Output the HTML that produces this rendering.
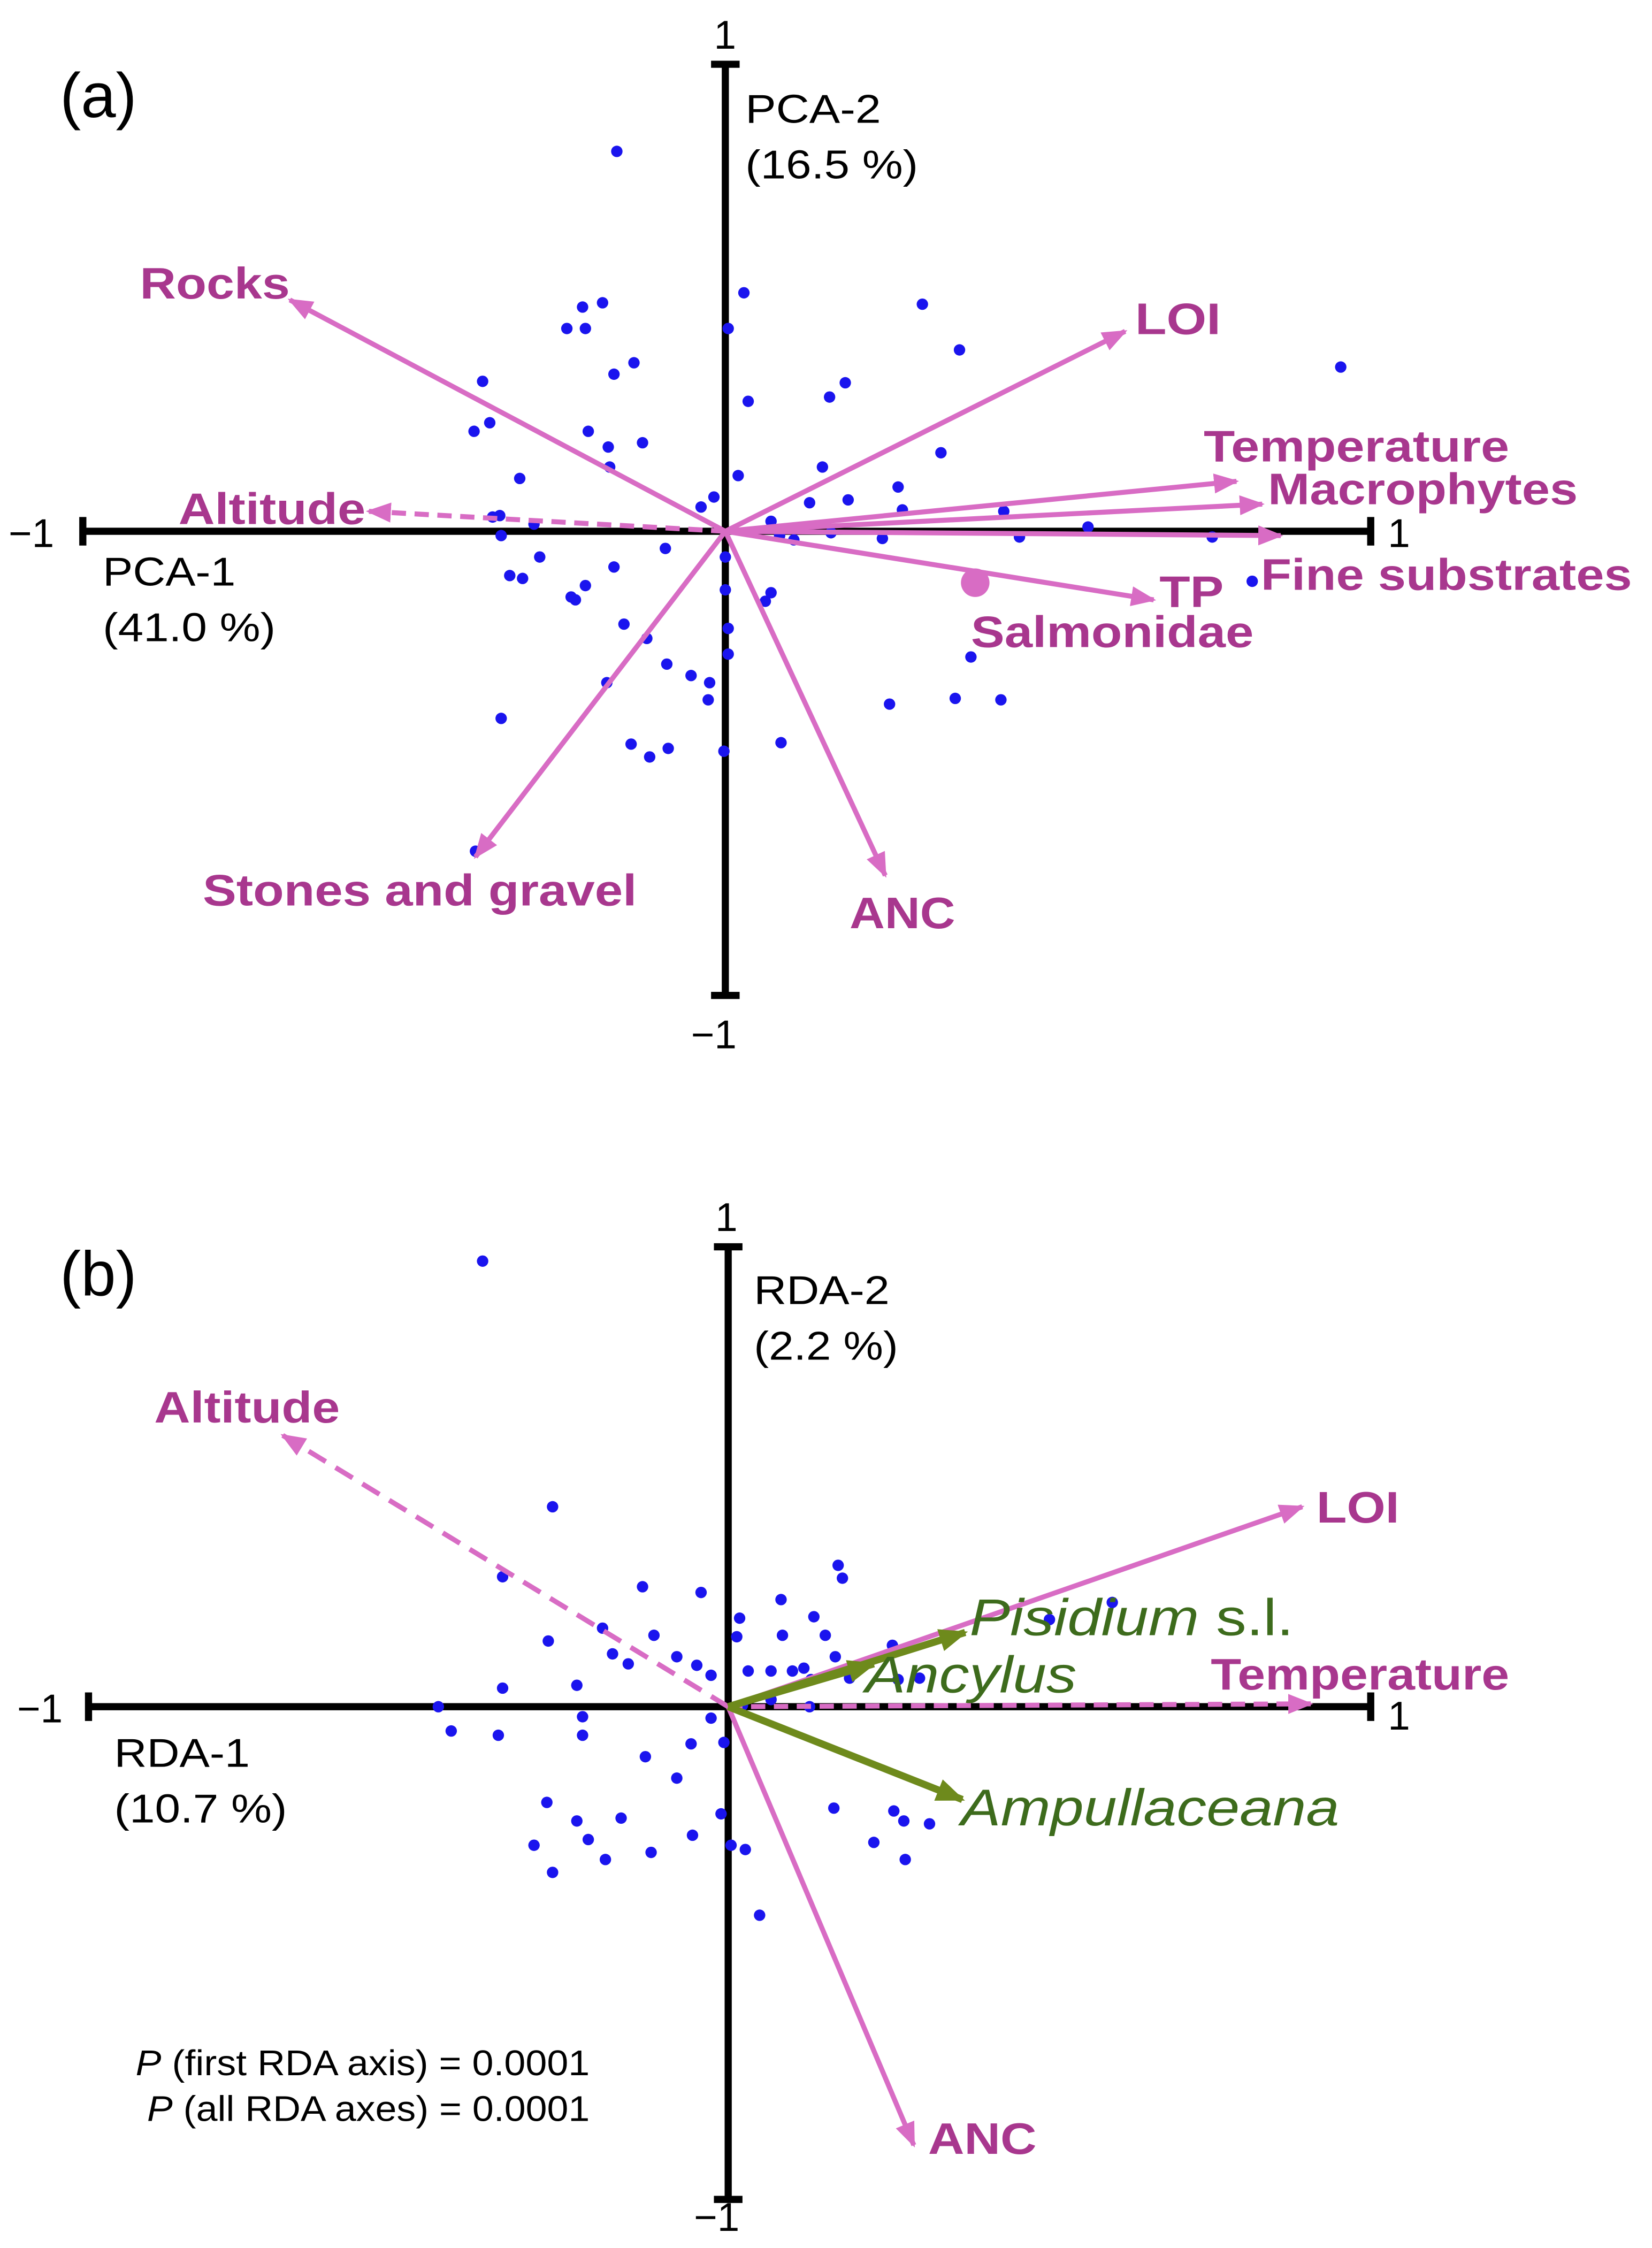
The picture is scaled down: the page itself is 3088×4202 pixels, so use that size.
<!DOCTYPE html>
<html><head><meta charset="utf-8"><style>html,body{margin:0;padding:0;background:#fff}svg{display:block}</style></head>
<body>
<svg width="3088" height="4202" viewBox="0 0 1157 1574" preserveAspectRatio="none" xmlns="http://www.w3.org/2000/svg" font-family="Liberation Sans, sans-serif">
<defs>
<marker id="m" viewBox="0 0 10 10" refX="9" refY="5" markerWidth="5" markerHeight="5" orient="auto" markerUnits="strokeWidth"><path d="M0,1 L10,5 L0,9 z" fill="#d86cc4"/></marker>
<marker id="g" viewBox="0 0 10 10" refX="9" refY="5" markerWidth="4" markerHeight="4" orient="auto" markerUnits="strokeWidth"><path d="M0,1 L10,5 L0,9 z" fill="#6e8a1c"/></marker>
</defs>
<rect width="1157" height="1574" fill="#fff"/>
<!-- Panel a axes -->
<g stroke="#000" stroke-width="5">
<line x1="58" y1="372" x2="960" y2="372"/>
<line x1="58" y1="362" x2="58" y2="382"/><line x1="960" y1="362" x2="960" y2="382"/>
<line x1="508" y1="45" x2="508" y2="697"/>
<line x1="498" y1="45" x2="518" y2="45"/><line x1="498" y1="697" x2="518" y2="697"/>
</g>
<g font-size="28" fill="#000">
<text x="500" y="34">1</text><text x="6" y="383">−1</text><text x="972" y="383">1</text><text x="484" y="734">−1</text>
<text x="522" y="86" textLength="95" lengthAdjust="spacingAndGlyphs">PCA-2</text><text x="522" y="125" textLength="121" lengthAdjust="spacingAndGlyphs">(16.5 %)</text>
<text x="72" y="410" textLength="93" lengthAdjust="spacingAndGlyphs">PCA-1</text><text x="72" y="449" textLength="121" lengthAdjust="spacingAndGlyphs">(41.0 %)</text>
</g>
<text x="42" y="82" font-size="44">(a)</text>
<g fill="#1a14ee">
<circle cx="432" cy="106" r="4"/><circle cx="521" cy="205" r="4"/><circle cx="408" cy="215" r="4"/><circle cx="422" cy="212" r="4"/><circle cx="397" cy="230" r="4"/><circle cx="410" cy="230" r="4"/><circle cx="510" cy="230" r="4"/><circle cx="646" cy="213" r="4"/><circle cx="672" cy="245" r="4"/><circle cx="444" cy="254" r="4"/><circle cx="430" cy="262" r="4"/><circle cx="524" cy="281" r="4"/><circle cx="592" cy="268" r="4"/><circle cx="581" cy="278" r="4"/><circle cx="338" cy="267" r="4"/><circle cx="343" cy="296" r="4"/><circle cx="332" cy="302" r="4"/><circle cx="412" cy="302" r="4"/><circle cx="426" cy="313" r="4"/><circle cx="427" cy="327" r="4"/><circle cx="450" cy="310" r="4"/><circle cx="659" cy="317" r="4"/><circle cx="364" cy="335" r="4"/><circle cx="517" cy="333" r="4"/><circle cx="576" cy="327" r="4"/><circle cx="629" cy="341" r="4"/><circle cx="491" cy="355" r="4"/><circle cx="500" cy="348" r="4"/><circle cx="540" cy="365" r="4"/><circle cx="567" cy="352" r="4"/><circle cx="594" cy="350" r="4"/><circle cx="632" cy="357" r="4"/><circle cx="703" cy="358" r="4"/><circle cx="345" cy="362" r="4"/><circle cx="350" cy="361" r="4"/><circle cx="374" cy="367" r="4"/><circle cx="351" cy="375" r="4"/><circle cx="546" cy="375" r="4"/><circle cx="556" cy="378" r="4"/><circle cx="582" cy="373" r="4"/><circle cx="618" cy="377" r="4"/><circle cx="714" cy="376" r="4"/><circle cx="762" cy="369" r="4"/><circle cx="849" cy="376" r="4"/><circle cx="939" cy="257" r="4"/><circle cx="466" cy="384" r="4"/><circle cx="410" cy="410" r="4"/><circle cx="400" cy="418" r="4"/><circle cx="403" cy="420" r="4"/><circle cx="357" cy="403" r="4"/><circle cx="366" cy="405" r="4"/><circle cx="378" cy="390" r="4"/><circle cx="430" cy="397" r="4"/><circle cx="508" cy="390" r="4"/><circle cx="540" cy="415" r="4"/><circle cx="536" cy="421" r="4"/><circle cx="508" cy="413" r="4"/><circle cx="437" cy="437" r="4"/><circle cx="453" cy="447" r="4"/><circle cx="467" cy="465" r="4"/><circle cx="484" cy="473" r="4"/><circle cx="497" cy="478" r="4"/><circle cx="496" cy="490" r="4"/><circle cx="510" cy="440" r="4"/><circle cx="510" cy="458" r="4"/><circle cx="425" cy="478" r="4"/><circle cx="351" cy="503" r="4"/><circle cx="442" cy="521" r="4"/><circle cx="455" cy="530" r="4"/><circle cx="468" cy="524" r="4"/><circle cx="507" cy="526" r="4"/><circle cx="547" cy="520" r="4"/><circle cx="623" cy="493" r="4"/><circle cx="669" cy="489" r="4"/><circle cx="701" cy="490" r="4"/><circle cx="680" cy="460" r="4"/><circle cx="877" cy="407" r="4"/><circle cx="333" cy="596" r="4"/>
</g>
<g stroke="#d86cc4" stroke-width="3.5" marker-end="url(#m)" fill="none">
<line x1="508" y1="372" x2="203" y2="210"/>
<line x1="508" y1="372" x2="788" y2="232"/>
<line x1="508" y1="372" x2="866" y2="337"/>
<line x1="508" y1="372" x2="884" y2="353"/>
<line x1="508" y1="372" x2="897" y2="375"/>
<line x1="508" y1="372" x2="808" y2="420"/>
<line x1="508" y1="372" x2="620" y2="613"/>
<line x1="508" y1="372" x2="333" y2="600"/>
<line x1="508" y1="372" x2="258" y2="358" stroke-dasharray="10,6"/>
</g>
<circle cx="683" cy="408" r="10" fill="#d86cc4"/>
<g font-size="31" font-weight="bold" fill="#a8378e">
<text x="98" y="209" textLength="105" lengthAdjust="spacingAndGlyphs">Rocks</text>
<text x="795" y="234" textLength="60" lengthAdjust="spacingAndGlyphs">LOI</text>
<text x="843" y="323" textLength="214" lengthAdjust="spacingAndGlyphs">Temperature</text>
<text x="888" y="353" textLength="217" lengthAdjust="spacingAndGlyphs">Macrophytes</text>
<text x="883" y="413" textLength="260" lengthAdjust="spacingAndGlyphs">Fine substrates</text>
<text x="812" y="425" textLength="45" lengthAdjust="spacingAndGlyphs">TP</text>
<text x="680" y="453" textLength="198" lengthAdjust="spacingAndGlyphs">Salmonidae</text>
<text x="142" y="634" textLength="304" lengthAdjust="spacingAndGlyphs">Stones and gravel</text>
<text x="595" y="650" textLength="74" lengthAdjust="spacingAndGlyphs">ANC</text>
<text x="125" y="367" textLength="131" lengthAdjust="spacingAndGlyphs">Altitude</text>
</g>
<!-- Panel b -->
<g stroke="#000" stroke-width="5">
<line x1="62" y1="1195" x2="960" y2="1195"/>
<line x1="62" y1="1185" x2="62" y2="1205"/><line x1="960" y1="1185" x2="960" y2="1205"/>
<line x1="510" y1="873" x2="510" y2="1540"/>
<line x1="500" y1="873" x2="520" y2="873"/><line x1="500" y1="1540" x2="520" y2="1540"/>
</g>
<g font-size="28" fill="#000">
<text x="501" y="862">1</text><text x="12" y="1206">−1</text><text x="972" y="1211">1</text><text x="486" y="1562">−1</text>
<text x="528" y="913" textLength="95" lengthAdjust="spacingAndGlyphs">RDA-2</text><text x="528" y="952" textLength="101" lengthAdjust="spacingAndGlyphs">(2.2 %)</text>
<text x="80" y="1237" textLength="95" lengthAdjust="spacingAndGlyphs">RDA-1</text><text x="80" y="1276" textLength="121" lengthAdjust="spacingAndGlyphs">(10.7 %)</text>
</g>
<g font-size="25" fill="#000">
<text x="95" y="1453" textLength="318" lengthAdjust="spacingAndGlyphs"><tspan font-style="italic">P</tspan> (first RDA axis) = 0.0001</text>
<text x="103" y="1485" textLength="310" lengthAdjust="spacingAndGlyphs"><tspan font-style="italic">P</tspan> (all RDA axes) = 0.0001</text>
</g>
<text x="42" y="907" font-size="44">(b)</text>
<g fill="#1a14ee">
<circle cx="338" cy="883" r="4"/><circle cx="387" cy="1055" r="4"/><circle cx="352" cy="1104" r="4"/><circle cx="450" cy="1111" r="4"/><circle cx="491" cy="1115" r="4"/><circle cx="587" cy="1096" r="4"/><circle cx="590" cy="1105" r="4"/><circle cx="547" cy="1120" r="4"/><circle cx="518" cy="1133" r="4"/><circle cx="384" cy="1149" r="4"/><circle cx="422" cy="1140" r="4"/><circle cx="458" cy="1145" r="4"/><circle cx="429" cy="1158" r="4"/><circle cx="440" cy="1165" r="4"/><circle cx="474" cy="1160" r="4"/><circle cx="488" cy="1166" r="4"/><circle cx="498" cy="1173" r="4"/><circle cx="516" cy="1146" r="4"/><circle cx="570" cy="1132" r="4"/><circle cx="578" cy="1145" r="4"/><circle cx="625" cy="1152" r="4"/><circle cx="585" cy="1160" r="4"/><circle cx="548" cy="1145" r="4"/><circle cx="524" cy="1170" r="4"/><circle cx="540" cy="1170" r="4"/><circle cx="555" cy="1170" r="4"/><circle cx="563" cy="1168" r="4"/><circle cx="568" cy="1176" r="4"/><circle cx="595" cy="1175" r="4"/><circle cx="629" cy="1176" r="4"/><circle cx="644" cy="1175" r="4"/><circle cx="735" cy="1134" r="4"/><circle cx="779" cy="1122" r="4"/><circle cx="352" cy="1182" r="4"/><circle cx="404" cy="1180" r="4"/><circle cx="307" cy="1195" r="4"/><circle cx="316" cy="1212" r="4"/><circle cx="349" cy="1215" r="4"/><circle cx="408" cy="1202" r="4"/><circle cx="408" cy="1215" r="4"/><circle cx="540" cy="1190" r="4"/><circle cx="567" cy="1195" r="4"/><circle cx="520" cy="1194" r="4"/><circle cx="498" cy="1203" r="4"/><circle cx="484" cy="1221" r="4"/><circle cx="452" cy="1230" r="4"/><circle cx="507" cy="1220" r="4"/><circle cx="474" cy="1245" r="4"/><circle cx="383" cy="1262" r="4"/><circle cx="404" cy="1275" r="4"/><circle cx="435" cy="1273" r="4"/><circle cx="374" cy="1292" r="4"/><circle cx="412" cy="1288" r="4"/><circle cx="456" cy="1297" r="4"/><circle cx="485" cy="1285" r="4"/><circle cx="505" cy="1270" r="4"/><circle cx="512" cy="1292" r="4"/><circle cx="522" cy="1295" r="4"/><circle cx="584" cy="1266" r="4"/><circle cx="626" cy="1268" r="4"/><circle cx="633" cy="1275" r="4"/><circle cx="651" cy="1277" r="4"/><circle cx="612" cy="1290" r="4"/><circle cx="634" cy="1302" r="4"/><circle cx="387" cy="1311" r="4"/><circle cx="424" cy="1302" r="4"/><circle cx="532" cy="1341" r="4"/>
</g>
<g stroke="#d86cc4" stroke-width="3.5" marker-end="url(#m)" fill="none">
<line x1="510" y1="1195" x2="912" y2="1055"/>
<line x1="510" y1="1195" x2="640" y2="1502"/>
<line x1="510" y1="1195" x2="198" y2="1005" stroke-dasharray="14,8"/>
<line x1="510" y1="1195" x2="918" y2="1193" stroke-dasharray="10,6"/>
</g>
<g stroke="#6e8a1c" stroke-width="5" marker-end="url(#g)" fill="none">
<line x1="510" y1="1195" x2="676" y2="1143"/>
<line x1="510" y1="1195" x2="612" y2="1165"/>
<line x1="510" y1="1195" x2="674" y2="1260"/>
</g>
<g font-size="31" font-weight="bold" fill="#a8378e">
<text x="108" y="996" textLength="130" lengthAdjust="spacingAndGlyphs">Altitude</text>
<text x="922" y="1066" textLength="58" lengthAdjust="spacingAndGlyphs">LOI</text>
<text x="848" y="1183" textLength="209" lengthAdjust="spacingAndGlyphs">Temperature</text>
<text x="650" y="1508" textLength="76" lengthAdjust="spacingAndGlyphs">ANC</text>
</g>
<g font-size="36" font-style="italic" fill="#3d6b1c">
<text x="679" y="1145" textLength="227" lengthAdjust="spacingAndGlyphs">Pisidium <tspan font-style="normal">s.l.</tspan></text>
<text x="606" y="1185" textLength="148" lengthAdjust="spacingAndGlyphs">Ancylus</text>
<text x="673" y="1278" textLength="265" lengthAdjust="spacingAndGlyphs">Ampullaceana</text>
</g>
</svg>
</body></html>
